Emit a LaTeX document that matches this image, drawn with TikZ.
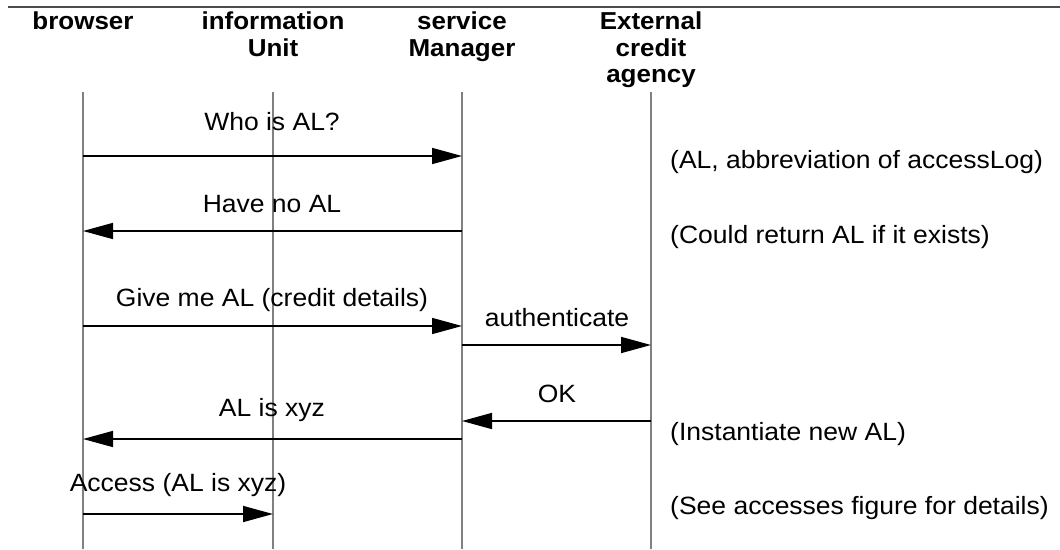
\documentclass[tikz,border=0pt]{standalone}
\usepackage{fontspec}
\setmainfont{Liberation Sans}[FakeStretch=1.06]
\usetikzlibrary{arrows.meta}

\tikzset{
  lifeline/.style={draw=gray, line width=1.6pt},
  msg/.style={draw=black, line width=1.6pt, -{Triangle[length=30pt,width=16pt]}},
  head/.style={font=\bfseries\fontsize{24.5}{26.5}\selectfont, align=center, anchor=north, inner sep=0pt},
  lbl/.style={font=\fontsize{25}{27}\selectfont, anchor=base, inner sep=0pt},
  note/.style={font=\fontsize{25}{27}\selectfont, anchor=base west, inner sep=0pt}
}

\begin{document}
\begin{tikzpicture}[x=1pt,y=-1pt]
  \useasboundingbox (0,0) rectangle (1060,549);
  % rule under the title
  \draw[gray!60!black, line width=1.5pt] (8,7) -- (1060,7);

  % heads of the lifelines
  \node[head] (browserHead) at (83,12) {browser};
  \node[head] (infoHead) at (273,12) {information\\Unit};
  \node[head] (serviceHead) at (462,12) {service\\Manager};
  \node[head] (agencyHead) at (651,12) {External\\credit\\agency};

  % lifelines
  \coordinate (browser) at (83,92);
  \coordinate (info) at (273,92);
  \coordinate (service) at (462,92);
  \coordinate (agency) at (651,92);
  \coordinate (bottom) at (0,549);
  \foreach \who in {browser,info,service,agency}
    \draw[lifeline] (\who) -- (\who |- bottom);

  % one row per message
  \coordinate (r1) at (0,156);
  \coordinate (r2) at (0,231);
  \coordinate (r3) at (0,326);
  \coordinate (r4) at (0,345);
  \coordinate (r5) at (0,421);
  \coordinate (r6) at (0,439);
  \coordinate (r7) at (0,514);

  \draw[msg] (browser |- r1) -- (service |- r1);
  \node[lbl] (whoIs) at (272,130) {Who is AL?};
  \draw[msg] (service |- r2) -- (browser |- r2);
  \node[lbl] (haveNo) at (272,212) {Have no AL};
  \draw[msg] (browser |- r3) -- (service |- r3);
  \node[lbl] (giveMe) at (272,306) {Give me AL (credit details)};
  \draw[msg] (service |- r4) -- (agency |- r4);
  \node[lbl] (auth) at (557,326) {authenticate};
  \draw[msg] (agency |- r5) -- (service |- r5);
  \node[lbl] (ok) at (557,402) {OK};
  \draw[msg] (service |- r6) -- (browser |- r6);
  \node[lbl] (alIs) at (272,416) {AL is xyz};
  \draw[msg] (browser |- r7) -- (info |- r7);
  \node[lbl] (access) at (178,491) {Access (AL is xyz)};

  % side notes
  \node[note] (noteAbbr) at (670,168) {(AL, abbreviation of accessLog)};
  \node[note] (noteReturn) at (670,243) {(Could return AL if it exists)};
  \node[note] (noteNew) at (670,440) {(Instantiate new AL)};
  \node[note] (noteSee) at (670,514) {(See accesses figure for details)};
\end{tikzpicture}
\end{document}
